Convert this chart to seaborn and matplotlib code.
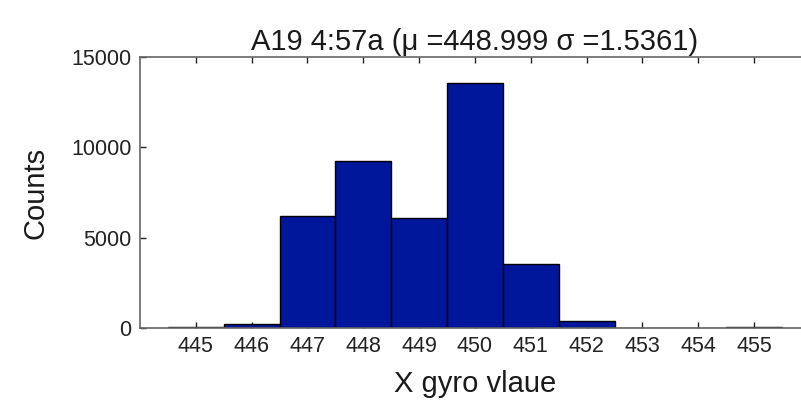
import pandas as pd
import matplotlib
matplotlib.use("Agg")
import matplotlib.pyplot as plt
import seaborn as sns

# Valores del histograma (centro de cada bin y cuentas)
gyro_values = [445, 446, 447, 448, 449, 450, 451, 452, 453, 454, 455]
counts = [70, 220, 6200, 9270, 6080, 13550, 3550, 390, 0, 0, 60]
x_ticks = [445, 446, 447, 448, 449, 450, 451, 452, 453, 454, 455]
y_ticks = [0, 5000, 10000, 15000]

title_text = "A19 4:57a (\u03bc =448.999 \u03c3 =1.5361)"
x_label = "X gyro vlaue"
y_label = "Counts"

sns.set_theme(style="white")
plt.rcParams['font.family'] = ['Liberation Sans', 'DejaVu Sans']

df = pd.DataFrame({'valor': gyro_values, 'cuentas': counts})

fig = plt.figure(figsize=(8.01, 4.04), dpi=100)
ax = fig.add_axes([140 / 801, 76 / 404, 670 / 801, 271 / 404])

sns.histplot(data=df, x='valor', weights='cuentas',
             binwidth=1, binrange=(444.5, 455.5), color='#00169b',
             edgecolor='black', linewidth=1.0, alpha=1.0, ax=ax)

ax.set_xlim(444, 456)
ax.set_ylim(0, 15000)
ax.set_xticks(x_ticks)
ax.set_yticks(y_ticks)
ax.set_xticklabels([str(t) for t in x_ticks], fontsize=15.5)
ax.set_yticklabels([str(t) for t in y_ticks], fontsize=15.5)
ax.tick_params(direction='in', length=4, width=1, colors='#222222',
               top=True, right=True, bottom=True, left=True, pad=6)
for s in ax.spines.values():
    s.set_color('#666666')
    s.set_linewidth(1.2)

ax.set_title(title_text, fontsize=21, pad=5, color='#1a1a1a')
ax.set_xlabel(x_label, fontsize=21, labelpad=9, color='#1a1a1a')
ax.set_ylabel(y_label, fontsize=21, labelpad=16, color='#1a1a1a')

fig.savefig('out.png', dpi=100, facecolor='white')
plt.close(fig)
